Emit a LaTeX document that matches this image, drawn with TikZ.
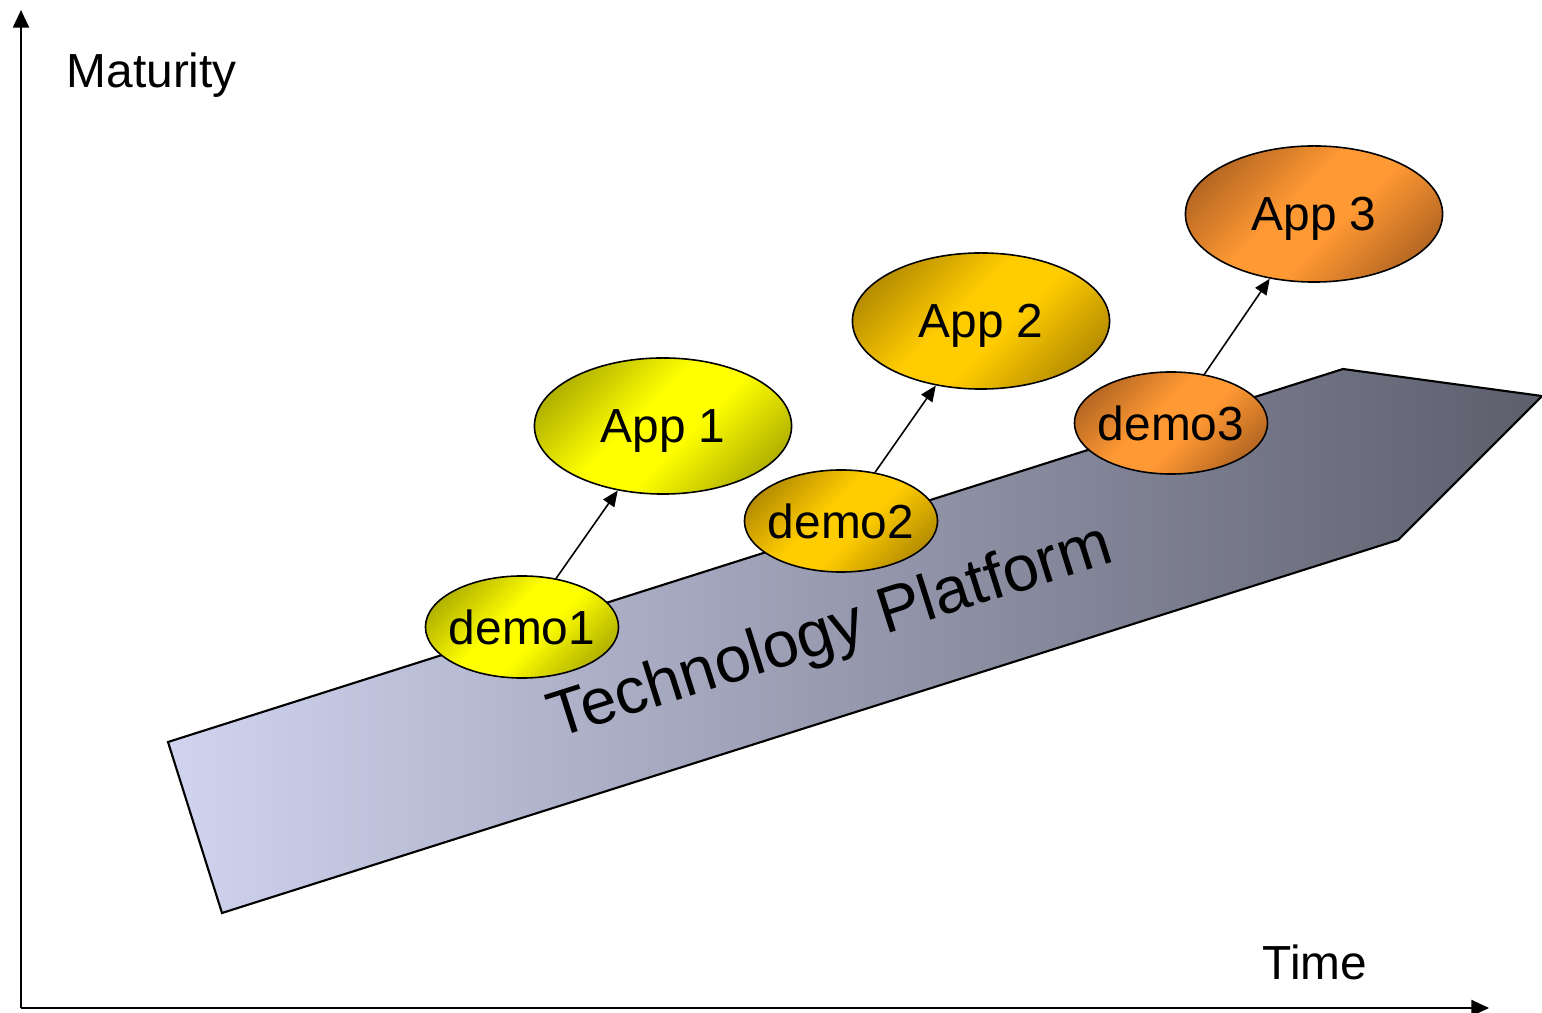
\documentclass[tikz,border=0pt]{standalone}
\usepackage{fontspec}
\setmainfont{Liberation Sans}
\usepackage{tikz}
\usepackage{xcolor}
\usetikzlibrary{arrows.meta,shapes.geometric}
\definecolor{ink}{HTML}{000000}
\definecolor{platleft}{HTML}{D0D4EF}
\definecolor{platmid}{HTML}{ADB0C8}
\definecolor{platright}{HTML}{5C5E6C}
\definecolor{yelhi}{HTML}{FFFF00}
\definecolor{yello}{HTML}{9A9A00}
\definecolor{goldhi}{HTML}{FFCC00}
\definecolor{goldlo}{HTML}{A07A00}
\definecolor{orahi}{HTML}{FF9933}
\definecolor{oralo}{HTML}{A0581E}
\pgfdeclareverticalshading{yelglow}{100bp}{color(0bp)=(yello); color(18bp)=(yello);
  color(44bp)=(yelhi); color(56bp)=(yelhi); color(82bp)=(yello); color(100bp)=(yello)}
\pgfdeclareverticalshading{goldglow}{100bp}{color(0bp)=(goldlo); color(18bp)=(goldlo);
  color(44bp)=(goldhi); color(56bp)=(goldhi); color(82bp)=(goldlo); color(100bp)=(goldlo)}
\pgfdeclareverticalshading{oraglow}{100bp}{color(0bp)=(oralo); color(18bp)=(oralo);
  color(44bp)=(orahi); color(56bp)=(orahi); color(82bp)=(oralo); color(100bp)=(oralo)}
\tikzset{
  axis/.style={draw=ink,line width=0.7pt,-{Triangle[length=5pt,width=4.5pt]}},
  platform/.style={draw=ink,line width=0.6pt,left color=platleft,
                   middle color=platmid,right color=platright},
  blob/.style={ellipse,draw=ink,line width=0.45pt,inner sep=-2pt,text depth=0pt,
               font=\fontsize{13.6}{16}\selectfont},
  demoblob/.style={blob,minimum width=1.93cm,minimum height=1.02cm},
  appblob/.style={blob,minimum width=2.57cm,minimum height=1.36cm},
  yelshade/.style={shading=yelglow,shading angle=45},
  goldshade/.style={shading=goldglow,shading angle=45},
  orashade/.style={shading=oraglow,shading angle=45},
  steparr/.style={draw=ink,line width=0.45pt,
                  -{Triangle[length=4.5pt,width=3.8pt]}},
  axislabel/.style={font=\fontsize{13.6}{16}\selectfont,inner sep=0pt}
}
\begin{document}
\begin{tikzpicture}[x=0.01cm,y=-0.01cm]
    \useasboundingbox (0,0) rectangle (1542,1013);

    % axes
    \coordinate (origin) at (21,1008);
    \coordinate (ytop) at (21,10);
    \coordinate (xend) at (1489,1008);
    \draw[axis] (origin) -- (ytop);
    \draw[axis] (origin) -- (xend);
    \node[axislabel,anchor=base west] (maturity) at (66,88) {Maturity};
    \node[axislabel,anchor=base west] (time) at (1262,979) {Time};

    % platform arrow
    \draw[platform] (168,742) -- (1343,369) -- (1542,396) -- (1398,540)
      -- (222,913) -- cycle;
    \node[rotate=17.6,font=\fontsize{18.4}{22}\selectfont,inner sep=0pt]
      (platlabel) at (831,634) {Technology Platform};

    % demos and applications
    \node[demoblob,yelshade] (demo1) at (522,627) {demo1};
    \node[appblob,yelshade] (app1) at (663,426) {App 1};
    \node[demoblob,goldshade] (demo2) at (841,521) {demo2};
    \node[appblob,goldshade] (app2) at (981,321) {App 2};
    \node[demoblob,orashade] (demo3) at (1171,423) {demo3};
    \node[appblob,orashade] (app3) at (1314,214) {App 3};

    \draw[steparr] (demo1) -- (app1);
    \draw[steparr] (demo2) -- (app2);
    \draw[steparr] (demo3) -- (app3);
  \end{tikzpicture}
\end{document}
